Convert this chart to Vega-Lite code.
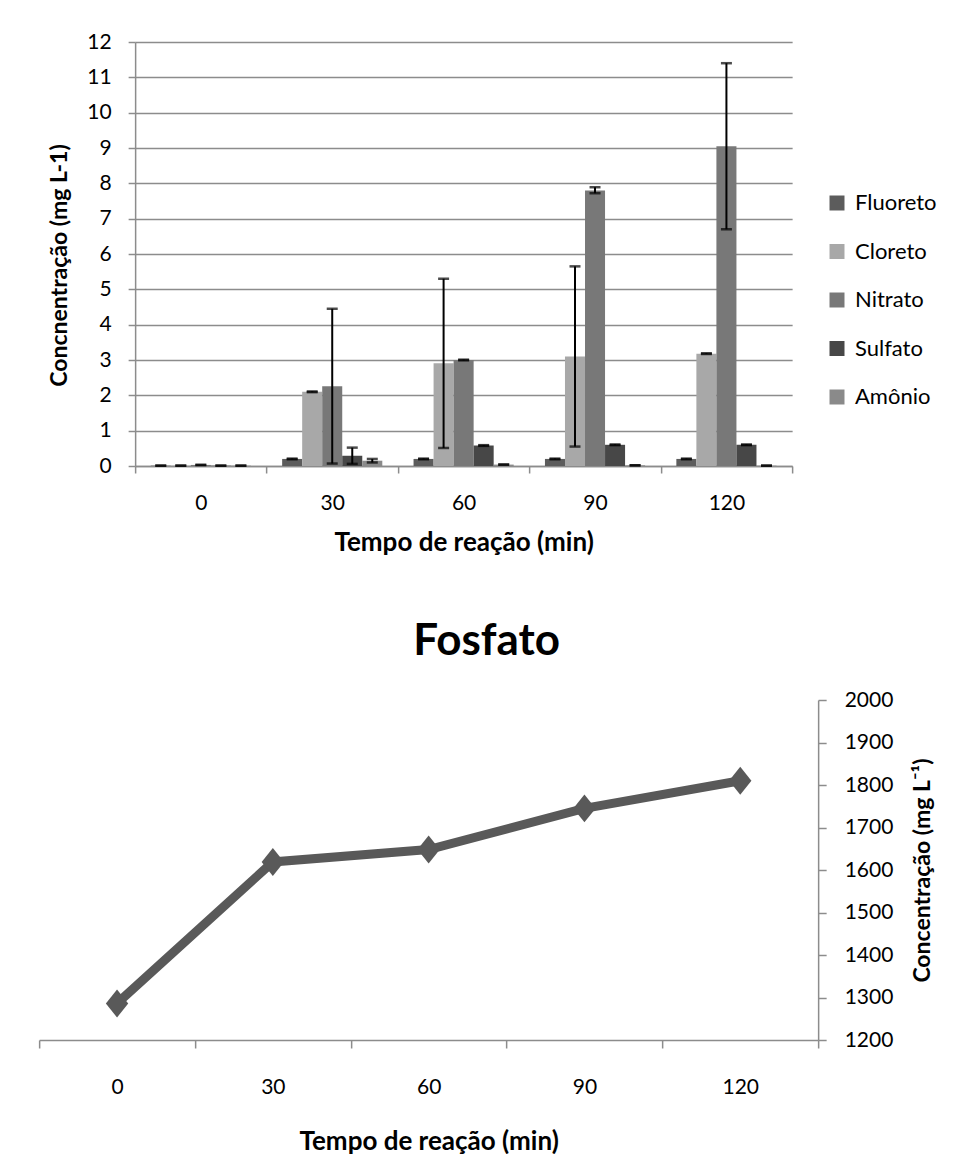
{
  "$schema": "https://vega.github.io/schema/vega-lite/v6.json",
  "padding": {"left": 38, "top": 31, "right": 0, "bottom": 0},
  "background": "white",
  "config": {
    "font": "Lato",
    "view": {"stroke": null},
    "axis": {
      "domainColor": "#8c8c8c",
      "domainWidth": 1.5,
      "tickColor": "#8c8c8c",
      "tickWidth": 1.5,
      "tickSize": 7,
      "labelFont": "Lato",
      "labelFontSize": 21,
      "labelColor": "#000000",
      "labelOverlap": false,
      "titleFont": "Lato",
      "titleFontSize": 26,
      "titleFontWeight": "bold",
      "titleColor": "#000000"
    }
  },
  "datasets": {
    "ions": [
      {"tempo": 0, "ion": "Fluoreto", "valor": 0.01, "lo": 0.01, "hi": 0.01},
      {"tempo": 0, "ion": "Cloreto", "valor": 0.01, "lo": 0.01, "hi": 0.01},
      {"tempo": 0, "ion": "Nitrato", "valor": 0.03, "lo": 0.03, "hi": 0.03},
      {"tempo": 0, "ion": "Sulfato", "valor": 0.01, "lo": 0.01, "hi": 0.01},
      {"tempo": 0, "ion": "Amônio", "valor": 0.01, "lo": 0.01, "hi": 0.01},
      {"tempo": 30, "ion": "Fluoreto", "valor": 0.2, "lo": 0.19, "hi": 0.21},
      {"tempo": 30, "ion": "Cloreto", "valor": 2.1, "lo": 2.09, "hi": 2.11},
      {"tempo": 30, "ion": "Nitrato", "valor": 2.26, "lo": 0.07, "hi": 4.45},
      {"tempo": 30, "ion": "Sulfato", "valor": 0.29, "lo": 0.06, "hi": 0.52},
      {"tempo": 30, "ion": "Amônio", "valor": 0.15, "lo": 0.1, "hi": 0.2},
      {"tempo": 60, "ion": "Fluoreto", "valor": 0.2, "lo": 0.19, "hi": 0.21},
      {"tempo": 60, "ion": "Cloreto", "valor": 2.91, "lo": 0.51, "hi": 5.3},
      {"tempo": 60, "ion": "Nitrato", "valor": 3.0, "lo": 2.99, "hi": 3.01},
      {"tempo": 60, "ion": "Sulfato", "valor": 0.58, "lo": 0.57, "hi": 0.59},
      {"tempo": 60, "ion": "Amônio", "valor": 0.04, "lo": 0.04, "hi": 0.04},
      {"tempo": 90, "ion": "Fluoreto", "valor": 0.2, "lo": 0.19, "hi": 0.21},
      {"tempo": 90, "ion": "Cloreto", "valor": 3.1, "lo": 0.55, "hi": 5.65},
      {"tempo": 90, "ion": "Nitrato", "valor": 7.8, "lo": 7.72, "hi": 7.89},
      {"tempo": 90, "ion": "Sulfato", "valor": 0.6, "lo": 0.59, "hi": 0.61},
      {"tempo": 90, "ion": "Amônio", "valor": 0.02, "lo": 0.02, "hi": 0.02},
      {"tempo": 120, "ion": "Fluoreto", "valor": 0.2, "lo": 0.19, "hi": 0.21},
      {"tempo": 120, "ion": "Cloreto", "valor": 3.18, "lo": 3.17, "hi": 3.19},
      {"tempo": 120, "ion": "Nitrato", "valor": 9.05, "lo": 6.7, "hi": 11.4},
      {"tempo": 120, "ion": "Sulfato", "valor": 0.6, "lo": 0.59, "hi": 0.61},
      {"tempo": 120, "ion": "Amônio", "valor": 0.01, "lo": 0.01, "hi": 0.01}
    ],
    "fosfato": [
      {"tempo": 0, "valor": 1286},
      {"tempo": 30, "valor": 1619},
      {"tempo": 60, "valor": 1648},
      {"tempo": 90, "valor": 1745},
      {"tempo": 120, "valor": 1810}
    ]
  },
  "spacing": 65,
  "center": true,
  "vconcat": [
    {
      "width": 657,
      "height": 424,
      "data": {"name": "ions"},
      "resolve": {"axis": {"y": "independent"}},
      "encoding": {
        "x": {
          "field": "tempo",
          "type": "ordinal",
          "title": "Tempo de reação (min)",
          "scale": {"paddingInner": 0, "paddingOuter": 0},
          "axis": {"labelAngle": 0, "tickBand": "extent", "labelPadding": 19, "titlePadding": 16}
        },
        "xOffset": {
          "field": "ion",
          "type": "nominal",
          "sort": ["Fluoreto", "Cloreto", "Nitrato", "Sulfato", "Amônio"],
          "scale": {"paddingInner": 0, "paddingOuter": 0.78}
        }
      },
      "layer": [
        {
          "mark": {"type": "bar"},
          "encoding": {
            "y": {
              "field": "valor",
              "type": "quantitative",
              "title": "Concnentração (mg L-1)",
              "scale": {"domain": [0, 12]},
              "axis": {
                "values": [0, 1, 2, 3, 4, 5, 6, 7, 8, 9, 10, 11, 12],
                "grid": true,
                "gridColor": "#8c8c8c",
                "gridWidth": 1.5,
                "labelPadding": 17,
                "titlePadding": 15,
                "titleFontSize": 23,
                "titleY": 223
              }
            },
            "color": {
              "field": "ion",
              "type": "nominal",
              "sort": ["Fluoreto", "Cloreto", "Nitrato", "Sulfato", "Amônio"],
              "scale": {
                "domain": ["Fluoreto", "Cloreto", "Nitrato", "Sulfato", "Amônio"],
                "range": ["#5c5c5c", "#a8a8a8", "#787878", "#474747", "#8a8a8a"]
              },
              "legend": {
                "title": null,
                "orient": "none",
                "legendX": 787,
                "legendY": 150,
                "symbolType": "square",
                "symbolSize": 225,
                "symbolStrokeWidth": 0,
                "labelFontSize": 22,
                "labelFont": "Lato",
                "labelColor": "#000000",
                "rowPadding": 26.5,
                "labelOffset": 7
              }
            }
          }
        },
        {
          "mark": {"type": "rule", "color": "#000000", "strokeWidth": 2},
          "encoding": {
            "y": {"field": "lo", "type": "quantitative", "axis": null},
            "y2": {"field": "hi"}
          }
        },
        {
          "mark": {"type": "tick", "orient": "horizontal", "color": "#000000", "size": 11, "thickness": 2.5},
          "encoding": {
            "y": {
              "field": "lo",
              "type": "quantitative",
              "axis": {
                "orient": "right",
                "offset": 45,
                "tickSize": 1,
                "tickColor": "#ffffff",
                "tickCount": 2,
                "labels": false,
                "domain": false,
                "grid": false,
                "title": null
              }
            }
          }
        },
        {
          "mark": {"type": "tick", "orient": "horizontal", "color": "#000000", "size": 11, "thickness": 2.5},
          "encoding": {
            "y": {
              "field": "hi",
              "type": "quantitative",
              "axis": {
                "orient": "left",
                "offset": 94,
                "tickSize": 1,
                "tickColor": "#ffffff",
                "tickCount": 2,
                "labels": false,
                "domain": false,
                "grid": false,
                "title": null
              }
            }
          }
        }
      ]
    },
    {
      "width": 779,
      "height": 340,
      "title": {
        "text": "Fosfato",
        "fontSize": 44,
        "fontWeight": "bold",
        "font": "Lato",
        "color": "#000000",
        "anchor": "middle",
        "frame": "bounds",
        "offset": 25
      },
      "data": {"name": "fosfato"},
      "encoding": {
        "x": {
          "field": "tempo",
          "type": "ordinal",
          "title": "Tempo de reação (min)",
          "scale": {"type": "band", "paddingInner": 0, "paddingOuter": 0},
          "axis": {"labelAngle": 0, "tickBand": "extent", "tickSize": 8, "labelPadding": 28, "titlePadding": 31}
        },
        "y": {
          "field": "valor",
          "type": "quantitative",
          "title": "Concentração (mg L⁻¹)",
          "scale": {"domain": [1200, 2000]},
          "axis": {
            "orient": "right",
            "values": [1200, 1300, 1400, 1500, 1600, 1700, 1800, 1900, 2000],
            "format": "d",
            "grid": false,
            "tickSize": 8,
            "labelPadding": 18,
            "titleAngle": 270,
            "titleBaseline": "top",
            "titleFontSize": 23,
            "titlePadding": 19
          }
        }
      },
      "layer": [
        {"mark": {"type": "line", "color": "#595959", "strokeWidth": 9}},
        {"mark": {"type": "point", "shape": "M0,-1.25L1,0L0,1.25L-1,0Z", "filled": true, "size": 500, "color": "#595959", "opacity": 1}}
      ]
    }
  ]
}
